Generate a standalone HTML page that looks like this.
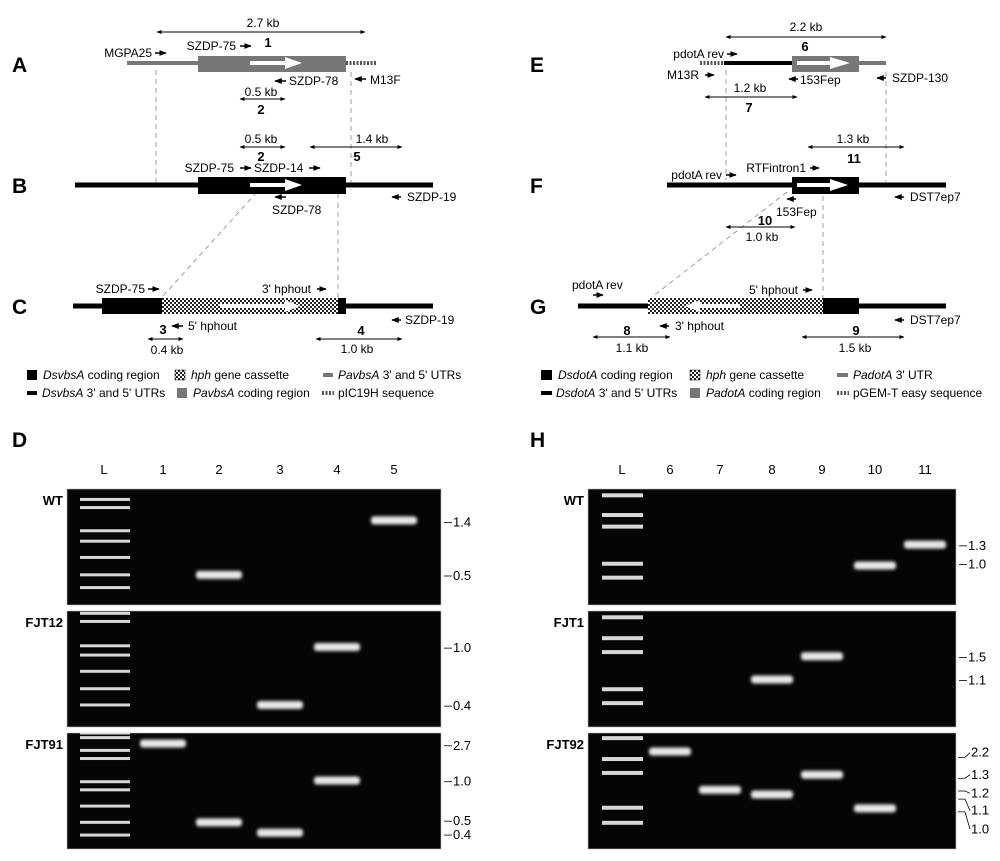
<!DOCTYPE html>
<html><head><meta charset="utf-8"><style>
body{margin:0;background:#fff}
svg{display:block;font-family:"Liberation Sans",Arial,sans-serif}
.t{font-size:12px;fill:#000}
.b{font-size:13px;font-weight:bold}
.L{font-size:21px;font-weight:bold}
.g{font-size:13px;fill:#000}
</style></head><body>
<svg id="fig" width="1000" height="861" viewBox="0 0 1000 861">
<defs>
<pattern id="chk" width="4" height="4" patternUnits="userSpaceOnUse"><rect width="4" height="4" fill="#fff"/><rect width="2" height="2" fill="#222"/><rect x="2" y="2" width="2" height="2" fill="#222"/></pattern>
<marker id="ah" viewBox="0 0 10 10" refX="9" refY="5" markerWidth="5" markerHeight="5" orient="auto-start-reverse"><path d="M0,1L10,5L0,9z" fill="#000"/></marker>
<filter id="bl" x="-20%" y="-100%" width="140%" height="300%"><feGaussianBlur stdDeviation="1.6"/></filter>
</defs>
<g id="diagrams" stroke-linecap="butt">
<text class="L" x="12" y="72">A</text>
<text class="L" x="12" y="193">B</text>
<text class="L" x="12" y="314">C</text>
<text class="L" x="530" y="72">E</text>
<text class="L" x="530" y="193">F</text>
<text class="L" x="530" y="314">G</text>
<text class="L" x="12" y="447">D</text>
<text class="L" x="530" y="447">H</text>
<g stroke="#888" stroke-width="0.8" stroke-dasharray="5,4" fill="none">
<line x1="156" y1="70" x2="156" y2="185"/><line x1="351" y1="72" x2="351" y2="190"/>
<line x1="257" y1="192" x2="163" y2="296"/><line x1="338" y1="194" x2="338" y2="298"/>
<line x1="726" y1="70" x2="726" y2="180"/><line x1="886" y1="72" x2="886" y2="182"/>
<line x1="787" y1="192" x2="652" y2="297"/><line x1="823" y1="196" x2="823" y2="298"/>
</g>
<line x1="127" y1="63" x2="198" y2="63" stroke="#777" stroke-width="4"/>
<rect x="198" y="56" width="148" height="16" fill="#777"/>
<line x1="346" y1="63" x2="377" y2="63" stroke="#555" stroke-width="4" stroke-dasharray="2,1.5"/>
<path d="M250,61H285V57L302,63L285,69V65H250z" fill="#fff"/>
<line x1="75" y1="185" x2="433" y2="185" stroke="#000" stroke-width="5"/>
<rect x="198" y="177" width="148" height="17" fill="#000"/>
<path d="M250,183H285V179L302,185L285,191V187H250z" fill="#fff"/>
<line x1="73" y1="306" x2="433" y2="306" stroke="#000" stroke-width="5"/>
<rect x="102" y="298" width="60" height="16" fill="#000"/>
<rect x="162" y="298" width="176" height="16" fill="url(#chk)"/>
<rect x="338" y="298" width="8" height="16" fill="#000"/>
<path d="M220,304H285V300L300,306L285,312V308H220z" fill="#fff"/>
<line x1="700" y1="63" x2="724" y2="63" stroke="#555" stroke-width="4" stroke-dasharray="2,1.5"/>
<line x1="724" y1="63" x2="792" y2="63" stroke="#000" stroke-width="4"/>
<rect x="792" y="56" width="67" height="16" fill="#777"/>
<line x1="859" y1="63" x2="886" y2="63" stroke="#777" stroke-width="4"/>
<path d="M797,61H830V57L850,63L830,69V65H797z" fill="#fff"/>
<line x1="667" y1="185" x2="946" y2="185" stroke="#000" stroke-width="5"/>
<rect x="792" y="177" width="67" height="17" fill="#000"/>
<path d="M797,183H830V179L848,185L830,191V187H797z" fill="#fff"/>
<line x1="578" y1="306" x2="946" y2="306" stroke="#000" stroke-width="5"/>
<rect x="648" y="298" width="175" height="16" fill="url(#chk)"/>
<rect x="823" y="298" width="36" height="16" fill="#000"/>
<path d="M740,304H700V300L685,306L700,312V308H740z" fill="#fff"/>
<g stroke="#000" stroke-width="1" marker-start="url(#ah)" marker-end="url(#ah)">
<line x1="157" y1="32" x2="365" y2="32"/><line x1="240" y1="99" x2="285" y2="99"/>
<line x1="240" y1="147" x2="285" y2="147"/><line x1="310" y1="147" x2="402" y2="147"/>
<line x1="148" y1="339" x2="183" y2="339"/><line x1="316" y1="339" x2="402" y2="339"/>
<line x1="726" y1="37" x2="886" y2="37"/><line x1="705" y1="97" x2="797" y2="97"/>
<line x1="808" y1="147" x2="904" y2="147"/><line x1="726" y1="227" x2="795" y2="227"/>
<line x1="593" y1="337" x2="670" y2="337"/><line x1="802" y1="337" x2="904" y2="337"/>
</g>
<g stroke="#000" stroke-width="1.5" marker-end="url(#ah)">
<line x1="155" y1="53" x2="166" y2="53"/><line x1="240" y1="46" x2="251" y2="46"/>
<line x1="286" y1="81" x2="275" y2="81"/><line x1="366" y1="79" x2="355" y2="79"/>
<line x1="240" y1="168" x2="251" y2="168"/><line x1="309" y1="168" x2="320" y2="168"/>
<line x1="286" y1="197" x2="275" y2="197"/><line x1="401" y1="197" x2="392" y2="197"/>
<line x1="148" y1="289" x2="159" y2="289"/><line x1="317" y1="289" x2="326" y2="289"/>
<line x1="183" y1="326" x2="172" y2="326"/><line x1="401" y1="320" x2="392" y2="320"/>
<line x1="727" y1="54" x2="737" y2="54"/><line x1="705" y1="75" x2="714" y2="75"/>
<line x1="798" y1="79" x2="789" y2="79"/><line x1="886" y1="78" x2="877" y2="78"/>
<line x1="726" y1="175" x2="736" y2="175"/><line x1="810" y1="168" x2="819" y2="168"/>
<line x1="796" y1="199" x2="787" y2="199"/><line x1="904" y1="197" x2="895" y2="197"/>
<line x1="593" y1="295" x2="603" y2="295"/><line x1="803" y1="290" x2="812" y2="290"/>
<line x1="669" y1="326" x2="660" y2="326"/><line x1="904" y1="320" x2="895" y2="320"/>
</g>
<g class="t">
<text x="263" y="27" text-anchor="middle">2.7 kb</text><text class="b" x="268" y="47" text-anchor="middle">1</text>
<text x="152" y="57" text-anchor="end">MGPA25</text><text x="236" y="50" text-anchor="end">SZDP-75</text>
<text x="289" y="85">SZDP-78</text><text x="370" y="84">M13F</text>
<text x="261" y="96" text-anchor="middle">0.5 kb</text><text class="b" x="261" y="114" text-anchor="middle">2</text>
<text x="261" y="143" text-anchor="middle">0.5 kb</text><text class="b" x="261" y="161" text-anchor="middle">2</text>
<text x="372" y="143" text-anchor="middle">1.4 kb</text><text class="b" x="357" y="161" text-anchor="middle">5</text>
<text x="234" y="172" text-anchor="end">SZDP-75</text><text x="254" y="172">SZDP-14</text>
<text x="272" y="214">SZDP-78</text><text x="407" y="201">SZDP-19</text>
<text x="145" y="293" text-anchor="end">SZDP-75</text><text x="311" y="293" text-anchor="end">3' hphout</text>
<text x="188" y="330">5' hphout</text><text x="405" y="324">SZDP-19</text>
<text class="b" x="163" y="334" text-anchor="middle">3</text><text x="167" y="354" text-anchor="middle">0.4 kb</text>
<text class="b" x="361" y="335" text-anchor="middle">4</text><text x="357" y="353" text-anchor="middle">1.0 kb</text>
<text x="806" y="31" text-anchor="middle">2.2 kb</text><text class="b" x="805" y="51" text-anchor="middle">6</text>
<text x="724" y="58" text-anchor="end">pdotA rev</text><text x="699" y="79" text-anchor="end">M13R</text>
<text x="800" y="84">153Fep</text><text x="892" y="82">SZDP-130</text>
<text x="750" y="92" text-anchor="middle">1.2 kb</text><text class="b" x="749" y="112" text-anchor="middle">7</text>
<text x="853" y="143" text-anchor="middle">1.3 kb</text><text class="b" x="854" y="163" text-anchor="middle">11</text>
<text x="722" y="179" text-anchor="end">pdotA rev</text><text x="806" y="172" text-anchor="end">RTFintron1</text>
<text x="776" y="216">153Fep</text><text x="910" y="201">DST7ep7</text>
<text class="b" x="765" y="225" text-anchor="middle">10</text><text x="762" y="241" text-anchor="middle">1.0 kb</text>
<text x="572" y="289">pdotA rev</text><text x="798" y="294" text-anchor="end">5' hphout</text>
<text x="675" y="330">3' hphout</text><text x="910" y="324">DST7ep7</text>
<text class="b" x="627" y="335" text-anchor="middle">8</text><text x="632" y="352" text-anchor="middle">1.1 kb</text>
<text class="b" x="856" y="335" text-anchor="middle">9</text><text x="855" y="352" text-anchor="middle">1.5 kb</text>
</g>
<g class="t">
<rect x="27" y="370" width="10" height="10" fill="#000"/><text x="43" y="379"><tspan font-style="italic">DsvbsA</tspan> coding region</text>
<rect x="175" y="370" width="10" height="10" fill="url(#chk)" stroke="#000" stroke-width="0.5"/><text x="191" y="379"><tspan font-style="italic">hph</tspan> gene cassette</text>
<rect x="323" y="373" width="10" height="4" fill="#777"/><text x="338" y="379"><tspan font-style="italic">PavbsA</tspan> 3' and 5' UTRs</text>
<rect x="27" y="391" width="10" height="4" fill="#000"/><text x="42" y="397"><tspan font-style="italic">DsvbsA</tspan> 3' and 5' UTRs</text>
<rect x="177" y="388" width="10" height="10" fill="#777"/><text x="193" y="397"><tspan font-style="italic">PavbsA</tspan> coding region</text>
<line x1="322" y1="393" x2="334" y2="393" stroke="#555" stroke-width="4" stroke-dasharray="2,1.5"/><text x="338" y="397">pIC19H sequence</text>
</g>
<g class="t">
<rect x="541" y="370" width="11" height="10" fill="#000"/><text x="558" y="379"><tspan font-style="italic">DsdotA</tspan> coding region</text>
<rect x="690" y="370" width="10" height="10" fill="url(#chk)" stroke="#000" stroke-width="0.5"/><text x="706" y="379"><tspan font-style="italic">hph</tspan> gene cassette</text>
<rect x="837" y="373" width="11" height="4" fill="#777"/><text x="853" y="379"><tspan font-style="italic">PadotA</tspan> 3' UTR</text>
<rect x="541" y="391" width="11" height="4" fill="#000"/><text x="556" y="397"><tspan font-style="italic">DsdotA</tspan> 3' and 5' UTRs</text>
<rect x="690" y="388" width="10" height="10" fill="#777"/><text x="706" y="397"><tspan font-style="italic">PadotA</tspan> coding region</text>
<line x1="837" y1="393" x2="849" y2="393" stroke="#555" stroke-width="4" stroke-dasharray="2,1.5"/><text x="853" y="397">pGEM-T easy sequence</text>
</g>
</g>
<g id="gels"></g>
</svg>
<script>
const lanesD = ["L","1","2","3","4","5"];
const lanesH = ["L","6","7","8","9","10","11"];
const rowNames = ["WT","FJT12","FJT91"];
const rowNamesH = ["WT","FJT1","FJT92"];
const ladderD = [[.09,.16,.36,.45,.59,.74,.85],[.02,.09,.30,.38,.52,.67,.81],[.0,.04,.15,.22,.42,.49,.63,.77,.88]];
const ladderH = [[.05,.22,.32,.64,.76],[.05,.23,.35,.67,.79],[.04,.22,.34,.64,.77]];
const bandsD = [[0,2,.74],[0,5,.27],[1,4,.31],[1,3,.81],[2,1,.09],[2,4,.41],[2,2,.77],[2,3,.86]];
const bandsH = [[0,6,.48],[0,5,.66],[1,4,.39],[1,3,.59],[2,1,.16],[2,2,.49],[2,3,.53],[2,4,.36],[2,5,.65]];
const sizesD = [[0,"1.4",.29],[0,"0.5",.75],[1,"1.0",.32],[1,"0.4",.82],[2,"2.7",.11],[2,"1.0",.42],[2,"0.5",.76],[2,"0.4",.88]];
const sizesH = [[0,"1.3",.49],[0,"1.0",.65],[1,"1.5",.40],[1,"1.1",.60]];
const angledH = [["2.2",.21,.17],["1.3",.39,.36],["1.2",.50,.52],["1.1",.57,.67],["1.0",.68,.83]];

const NS="http://www.w3.org/2000/svg";
const root=document.getElementById('gels');
function el(tag,attrs,parent){const e=document.createElementNS(NS,tag);for(const k in attrs)e.setAttribute(k,attrs[k]);(parent||root).appendChild(e);return e;}
const rowTop=[489,611,733], rowH=116;

function gel(cfg){
  const g=el('g',{});
  
  
  cfg.lanes.forEach((n,i)=>{
    const t=el('text',{x:cfg.laneX(i),y:474,'text-anchor':'middle',class:'g','font-size':'14'},g);
    
    
    t.textContent=n;
  });
  cfg.rows.forEach((rn,r)=>{
    const y0=rowTop[r];
    const p=el('rect',{x:cfg.x0,y:y0,width:cfg.x1-cfg.x0,height:rowH,fill:'#050505',stroke:'#bbb','stroke-width':0.6},g);
    
    
    const t=el('text',{x:cfg.x0-4,y:y0+16,'text-anchor':'end',class:'g','font-size':'14','font-weight':'bold'},g);
    
    
    t.textContent=rn;
    cfg.ladder[r].forEach(f=>{
      const b=el('rect',{x:cfg.laddX[0],y:y0+f*rowH-1.5,width:cfg.laddX[1]-cfg.laddX[0],height:cfg.lh,fill:'#eee',opacity:0.9},g);
      
      
    });
  });
  cfg.bands.forEach(([r,l,f])=>{
    const cx=cfg.laneX(l);
    const b=el('rect',{x:cx-cfg.bw/2,y:rowTop[r]+f*rowH-4,width:cfg.bw,height:8,rx:3,fill:'#e8e8e8',filter:'url(#bl)'},g);
    
    
  });
  cfg.sizes.forEach(([r,s,f])=>{
    const y=rowTop[r]+f*rowH;
    el('line',{x1:cfg.x1+3,y1:y,x2:cfg.x1+11,y2:y,stroke:'#000','stroke-width':0.8},g);
    const t=el('text',{x:cfg.x1+12,y:y+4,class:'g','font-size':'12'},g);
    
    
    t.textContent=s;
  });
}
gel({name:'gel-d',x0:67,x1:441,lanes:lanesD,rows:rowNames,laneX:i=>[104,163,219,280,337,394][i],laddX:[80,130],ladder:ladderD,bands:bandsD,sizes:sizesD,bw:46,lh:3});
gel({name:'gel-h',x0:588,x1:956,lanes:lanesH,rows:rowNamesH,laneX:i=>[622,670,720,772,822,875,925][i],laddX:[602,643],ladder:ladderH,bands:bandsH,sizes:sizesH,bw:42,lh:4});
angledH.forEach(([s,fb,ft])=>{
  const yb=rowTop[2]+fb*rowH, yt=rowTop[2]+ft*rowH;
  el('polyline',{points:`958,${yb} 965,${yb} 970,${yt}`,fill:'none',stroke:'#000','stroke-width':0.8});
  const t=el('text',{x:971,y:yt+4,class:'g','font-size':'12'});
  
  
  t.textContent=s;
});
</script>
</body></html>
